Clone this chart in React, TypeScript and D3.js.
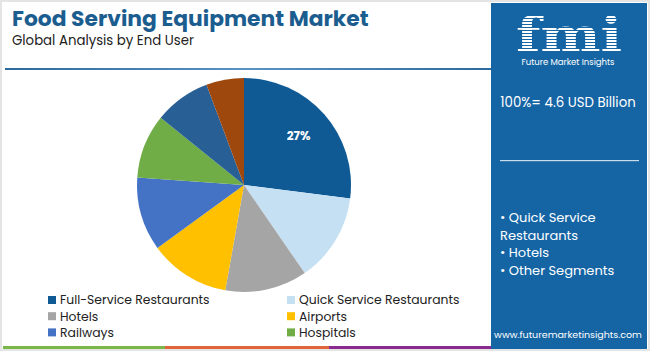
import React from "react";
import * as d3 from "d3";

const categories = [
  "Full-Service Restaurants",
  "Quick Service Restaurants",
  "Hotels",
  "Airports",
  "Railways",
  "Hospitals",
  "Others A",
  "Others B",
];
const shares = [27, 13.4, 12.4, 12.2, 11.1, 9.7, 8.5, 5.7];
const colors = ["#0f5a94", "#c5e0f2", "#a5a5a5", "#ffc000", "#4472c4", "#70ad47", "#285f95", "#9e480e"];
const legendCount = 6;
const panelBullets = ["• Quick Service", "Restaurants", "• Hotels", "• Other Segments"];

const W = 650;
const H = 351;
const FONT = "Poppins, Inter, 'Open Sans', sans-serif";

export default function App() {
  const cx = 244;
  const cy = 185;
  const r = 107;
  const pie = d3.pie<number>().sort(null).value((d) => d)(shares);
  const arc = d3.arc<d3.PieArcDatum<number>>().innerRadius(0).outerRadius(r);
  const labelArc = d3.arc<d3.PieArcDatum<number>>().innerRadius(r * 0.68).outerRadius(r * 0.68);

  const legendX = d3.scaleOrdinal<number, number>().domain([0, 1]).range([48, 287]);
  const legendY = d3.scaleLinear().domain([0, 1]).range([300, 316.2]);

  return (
    <svg width={W} height={H} style={{ position: "absolute", left: 0, top: 0 }} fontFamily={FONT}>
      <defs>
        <linearGradient id="hl" x1="0" x2="1" y1="0" y2="0">
          <stop offset="0" stopColor="#2b6a9e" />
          <stop offset="0.5" stopColor="#5a92c4" />
          <stop offset="1" stopColor="#2b6a9e" />
        </linearGradient>
        <pattern id="stripes" width="4" height="3" patternUnits="userSpaceOnUse">
          <rect width="4" height="1" fill="#1565a5" />
        </pattern>
      </defs>
      <rect x={0} y={0} width={W} height={H} fill="#ffffff" />
      <rect x={1} y={1} width={W - 2} height={H - 2} fill="none" stroke="#e4e4e4" strokeWidth={2} />

      <text x={12} y={26} fontSize={21.8} fontWeight={700} fill="#1b5d8f" fontFamily={FONT}>
        Food Serving Equipment Market
      </text>
      <text x={12} y={45} fontSize={13.3} fill="#222" fontFamily={FONT}>
        Global Analysis by End User
      </text>
      <rect x={5} y={68} width={487} height={2} fill="url(#hl)" />

      <g>
        {pie.map((p, i) => (
          <path key={categories[i]} d={arc(p) || ""} transform={`translate(${cx},${cy})`} fill={colors[i]} />
        ))}
        {pie.slice(0, 1).map((p) => {
          const [lx, ly] = labelArc.centroid(p);
          return (
            <text key="lbl" x={cx + lx} y={cy + ly} fontSize={12} fontWeight={700} fill="#fff" textAnchor="middle" dominantBaseline="middle">
              {`${Math.round(p.data)}%`}
            </text>
          );
        })}
      </g>

      <g>
        {categories.slice(0, legendCount).map((c, i) => {
          const col = i % 2;
          const row = Math.floor(i / 2);
          const x = legendX(col);
          const y = legendY(row);
          return (
            <g key={c}>
              <rect x={x} y={y - 4} width={8} height={8} fill={colors[i]} />
              <text x={x + 12} y={y + 4.3} fontSize={12.4} fill="#222">
                {c}
              </text>
            </g>
          );
        })}
      </g>

      <rect x={3} y={346} width={162} height={3} fill="#7ab648" />
      <rect x={165} y={346} width={164} height={3} fill="#e2643a" />
      <rect x={329} y={346} width={163} height={3} fill="#8b2a8e" />

      <rect x={491} y={3} width={156} height={346} fill="#1565a5" />
      <g>
        <text x={516} y={51} fontSize={46} fontWeight={700} fill="#fff" fontFamily="'DejaVu Serif', serif" textLength={106} lengthAdjust="spacingAndGlyphs">
          fmi
        </text>
        <rect x={512} y={12} width={114} height={40} fill="url(#stripes)" />
        <text x={568} y={65} fontSize={8.5} fill="#fff" textAnchor="middle">
          Future Market Insights
        </text>
      </g>
      <text x={568} y={107} fontSize={13.3} fill="#fff" textAnchor="middle">
        100%= 4.6 USD Billion
      </text>
      <rect x={500} y={160} width={139} height={1.2} fill="#c9dcec" />
      {panelBullets.map((t, i) => (
        <text key={t} x={500} y={222 + i * 17.5} fontSize={13} fill="#fff">
          {t}
        </text>
      ))}
      <text x={568} y={338} fontSize={9.5} fill="#fff" textAnchor="middle">
        www.futuremarketinsights.com
      </text>
    </svg>
  );
}
